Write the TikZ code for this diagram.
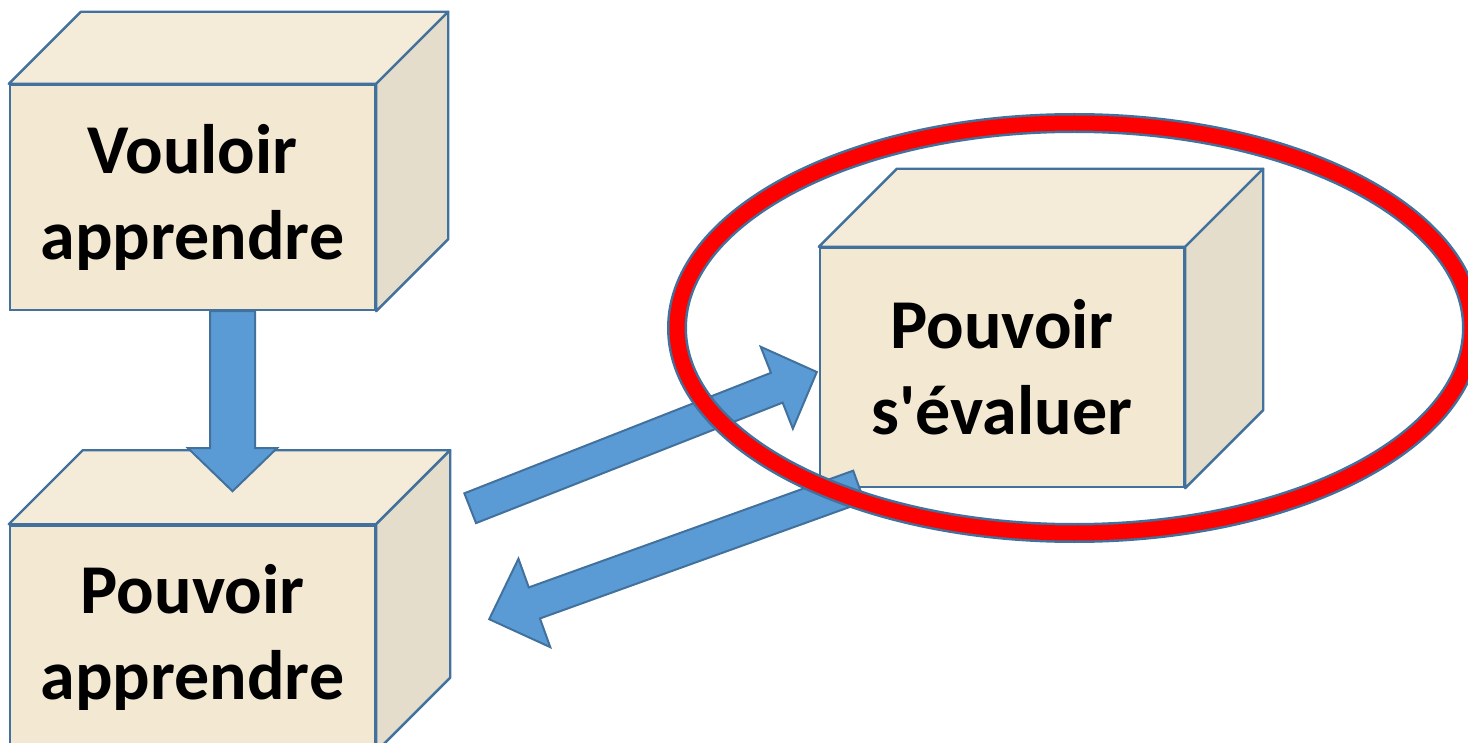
\documentclass[tikz,border=0pt]{standalone}
\usepackage{fontspec}
\newfontfamily\boxfont{Carlito}
\usetikzlibrary{positioning,calc,shapes.geometric}
\definecolor{edgeblue}{RGB}{65,113,156}
\definecolor{arrowblue}{RGB}{91,155,213}
\definecolor{paper}{RGB}{243,232,210}
\definecolor{papertop}{RGB}{244,236,217}
\definecolor{paperside}{RGB}{229,221,203}
\definecolor{ringred}{RGB}{255,0,0}

% top and right faces of a cube whose front face is node #1, depth #2
\newcommand\cubesides[2]{%
  \draw[side,fill=papertop] (#1.north west) -- ++(#2,-#2)
    -- ($(#1.north east)+(#2,-#2)$) -- (#1.north east) -- cycle;
  \draw[side,fill=paperside] (#1.north east) -- ++(#2,-#2)
    -- ($(#1.south east)+(#2,-#2)$) -- (#1.south east) -- cycle;
}
% block arrow from #1 to #2: shaft half width #3, head half width #4, head length #5
\newcommand\blockarrow[5]{%
  \coordinate (neck) at ($(#2)!#5!(#1)$);
  \draw[bigarrow] ($(#1)!#3!90:(#2)$) -- ($(neck)!#3!90:(#2)$)
    -- ($(neck)!#4!90:(#2)$) -- (#2) -- ($(neck)!#4!-90:(#2)$)
    -- ($(neck)!#3!-90:(#2)$) -- ($(#1)!#3!-90:(#2)$) -- cycle;
}

\begin{document}
\begin{tikzpicture}[x=0.5pt,y=-0.5pt,
    cube/.style={draw=edgeblue,line width=1.2pt,fill=paper,inner sep=0pt,
                 align=center,font=\boxfont\bfseries\fontsize{35pt}{43pt}\selectfont},
    side/.style={draw=edgeblue,line width=1.2pt,line join=round},
    bigarrow/.style={draw=edgeblue,line width=1pt,fill=arrowblue},
    halo/.style={ellipse,draw=edgeblue,line width=1.25pt,double=ringred,
                 double distance=7.5pt,inner sep=0pt}]
  \useasboundingbox (0,0) rectangle (1468,743);

  % cubes
  \node[cube,minimum width=182.5pt,minimum height=112.5pt] (va) at (192.5,197.5)
    {Vouloir\\apprendre};
  \node[cube,minimum width=182.5pt,minimum height=112.5pt,below=106.5pt of va] (pa)
    {Pouvoir\\apprendre};
  \node[cube,minimum width=182pt,minimum height=119.5pt] (pe) at (1002,367.5)
    {Pouvoir\\s'évaluer};
  \cubesides{va}{72}
  \cubesides{pa}{74}
  \cubesides{pe}{78}

  % arrows
  \coordinate (down from) at ($(va.south)+(40,0)$);
  \coordinate (down to) at ($(pa.north)+(40,-33)$);
  \coordinate (up from) at ($(pa.north east)+(94,-16)$);
  \coordinate (up to) at ($(pe.west)+(-2,4.5)$);
  \coordinate (back from) at ($(pe.south west)+(40,-2)$);
  \coordinate (back to) at ($(pa.north east)+(113,95)$);
  \blockarrow{down from}{down to}{11.25pt}{22.25pt}{21.5pt}
  \blockarrow{up from}{up to}{8pt}{22pt}{21.5pt}
  \blockarrow{back from}{back to}{8.25pt}{23.5pt}{24pt}

  % red ring round the last cube
  \node[halo,minimum width=397.5pt,minimum height=205pt] (ring) at (1074.5,328) {};
\end{tikzpicture}
\end{document}
